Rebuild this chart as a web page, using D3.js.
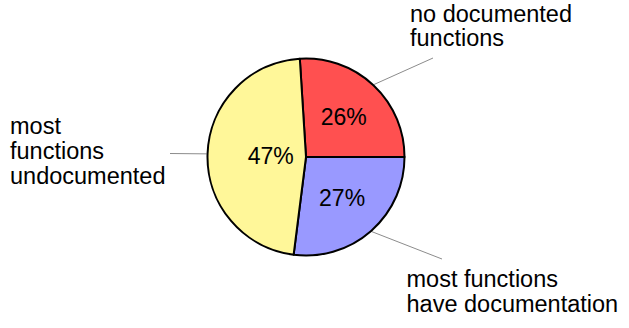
<!DOCTYPE html>
<html>
<head>
<meta charset="utf-8">
<script src="https://cdn.jsdelivr.net/npm/d3@7"></script>
<style>
  html, body { margin: 0; padding: 0; background: #fff; }
  svg { display: block; }
  text { font-family: "Liberation Sans", Arial, Helvetica, sans-serif; fill: #000; }
</style>
</head>
<body>
<svg id="chart" width="629" height="328"></svg>
<script>
// Share of projects by how well their functions are documented (percent)
const categories = ["no documented functions", "most functions have documentation", "most functions undocumented"];
const values = [26, 27, 47];
const colors = ["#ff5050", "#9999ff", "#fff799"];

// Outer label text, split into lines
const labelLines = [
  ["no documented", "functions"],
  ["most functions", "have documentation"],
  ["most", "functions", "undocumented"]
];

const width = 629, height = 328;
const cx = 306, cy = 157, R = 98.5;
const fontSize = 23.5, pctSize = 23, lineHeight = 24.8;

const svg = d3.select("#chart");
const g = svg.append("g").attr("transform", `translate(${cx},${cy})`);

const total = d3.sum(values);
// First slice ends at 3 o'clock; remaining slices follow clockwise
const start = Math.PI / 2 - (values[0] / total) * 2 * Math.PI;
const pie = d3.pie().sort(null).startAngle(start).endAngle(start + 2 * Math.PI);
const arcs = pie(values);
const arc = d3.arc().innerRadius(0).outerRadius(R);

// Leader lines from slice edge toward each outer label
const leaderEnds = [[433, 58], [442, 259], [170, 153.5]];
const labelPos = [[410, 21.5], [406.5, 286.7], [10, 134.3]];

arcs.forEach((d, i) => {
  const mid = (d.startAngle + d.endAngle) / 2;
  const sx = Math.sin(mid) * (R + 1), sy = -Math.cos(mid) * (R + 1);
  g.append("line")
    .attr("x1", sx).attr("y1", sy)
    .attr("x2", leaderEnds[i][0] - cx).attr("y2", leaderEnds[i][1] - cy)
    .attr("stroke", "#8c8c8c").attr("stroke-width", 1);
});

g.selectAll("path.slice")
  .data(arcs)
  .join("path")
  .attr("class", "slice")
  .attr("d", arc)
  .attr("fill", (d, i) => colors[i])
  .attr("stroke", "#000")
  .attr("stroke-width", 2)
  .attr("stroke-linejoin", "round");

// Percent labels near each sector's centroid
g.selectAll("text.pct")
  .data(arcs)
  .join("text")
  .attr("class", "pct")
  .attr("font-size", pctSize)
  .attr("text-anchor", "middle")
  .attr("dominant-baseline", "central")
  .attr("transform", d => {
    const a = d.endAngle - d.startAngle;
    const mid = (d.startAngle + d.endAngle) / 2;
    let r = (4 * R * Math.sin(a / 2)) / (3 * a) * 0.94;
    if (a > Math.PI * 0.9) r *= 0.85;
    return `translate(${Math.sin(mid) * r},${-Math.cos(mid) * r})`;
  })
  .text(d => Math.round(d.value / total * 100) + "%");

// Outer category labels
labelLines.forEach((lines, i) => {
  const t = svg.append("text")
    .attr("font-size", fontSize)
    .attr("x", labelPos[i][0])
    .attr("y", labelPos[i][1]);
  lines.forEach((ln, j) => {
    t.append("tspan")
      .attr("x", labelPos[i][0])
      .attr("dy", j === 0 ? 0 : lineHeight)
      .text(ln);
  });
});
</script>
</body>
</html>
